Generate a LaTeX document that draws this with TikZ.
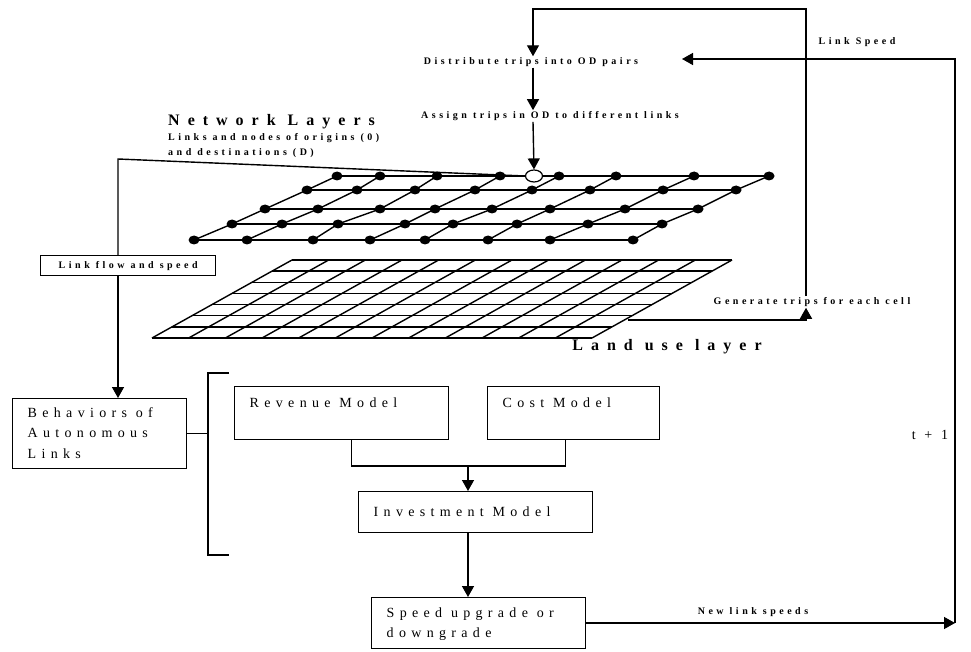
\documentclass[tikz,border=0pt]{standalone}
\usepackage{fontspec}
\setmainfont{Liberation Serif}
\newfontfamily\spaced[LetterSpace=35]{Liberation Serif}
\newfontfamily\widespaced[LetterSpace=50]{Liberation Serif}
\newfontfamily\boxfont[LetterSpace=38]{Liberation Serif}
\usetikzlibrary{arrows.meta,calc,positioning,shapes.geometric}

\newcommand\boxlines[2]{\makebox[#1][l]{\begin{tabular}{@{}l@{}}#2\end{tabular}}}

\tikzset{
  wire/.style={line width=1.4pt},
  flow/.style={line width=1.4pt,-{Triangle[length=11pt,width=12pt]}},
  steplabel/.style={font=\fontsize{10}{11}\selectfont\spaced\bfseries,inner sep=1pt},
  layertitle/.style={font=\fontsize{16}{18}\selectfont\widespaced\bfseries,inner sep=0pt},
  modelbox/.style={draw,line width=1.4pt,font=\fontsize{14}{20.5}\selectfont\boxfont,
    inner xsep=15pt,inner ysep=4pt,anchor=north west},
}

\begin{document}
\begin{tikzpicture}[x=1pt,y=-1pt]
        \useasboundingbox (0,0) rectangle (971,652);

        % network layer
        \def\netcols{194/232/265/307/337,247/282/318/357/380,313/338/380/415/437,370/405/435/475/500,
          425/453/492/532/559,488/517/550/590/616,550/588/625/663/694,633/662/698/736/769}
        \foreach \a/\b/\c/\d/\e in \netcols
            \draw[wire] (\a,240) -- (\b,224) -- (\c,209) -- (\d,190) -- (\e,176);
        \foreach \y/\l/\r in {240/194/633,224/232/662,209/265/698,190/307/736,176/337/769}
            \draw[wire] (\l,\y) -- (\r,\y);
        \foreach \a/\b/\c/\d/\e in \netcols
            \foreach \p/\y in {\a/240,\b/224,\c/209,\d/190,\e/176}
                \fill (\p,\y) ellipse (5.5 and 4.5);
        \node[draw,fill=white,ellipse,line width=1.2pt,minimum width=17pt,minimum height=12pt,inner sep=0pt] (odnode) at (534,176) {};

        % land use layer
        \foreach \i in {0,...,7}
            \draw[wire] ({152+20*\i},{338-78/7*\i}) -- ({592+20*\i},{338-78/7*\i});
        \foreach \j in {0,...,12}
            \draw[wire] ({152+440/12*\j},338) -- ({292+440/12*\j},260);
        \coordinate (landuse_out) at (628,320);

        % labels
        \node[steplabel] (distribute) at (531,62) {Distribute trips into OD pairs};
        \node[steplabel] (assign) at (550,116) {Assign trips in OD to different links};
        \node[steplabel] (linkspeed) at (857,42) {Link Speed};
        \node[steplabel] (generate) at (812,302) {Generate trips for each cell};
        \node[layertitle,anchor=west] (nettitle) at (168,122) {Network Layers};
        \node[steplabel,anchor=west,align=left,font=\fontsize{10}{15}\selectfont\spaced\bfseries] (netsub) at (167,146)
            {Links and nodes of origins (0)\\and destinations (D)};
        \node[layertitle] (landtitle) at (667,347) {Land use layer};
        \node[steplabel] (newspeeds) at (753,612) {New link speeds};
        \node[font=\fontsize{14}{16}\selectfont\boxfont] (tplus) at (930,435) {t + 1};

        % boxes
        \node[draw,wire,steplabel,minimum width=175pt,minimum height=20pt,anchor=north west] (linkflow) at (40,255) {Link flow and speed};
        \node[modelbox,minimum height=67pt] (behaviors) at (12,398) {\boxlines{144pt}{Behaviors of\\Autonomous\\Links}};
        \node[modelbox,minimum height=53pt] (revenue) at (234,386) {\boxlines{184pt}{Revenue Model\\\mbox{}}};
        \node[modelbox,minimum height=53pt] (cost) at (487,386) {\boxlines{142pt}{Cost Model\\\mbox{}}};
        \node[modelbox,minimum height=41pt] (investment) at (358,491) {\boxlines{204pt}{Investment Model}};
        \node[modelbox,minimum height=51pt] (speed) at (371,597) {\boxlines{184pt}{Speed upgrade or\\downgrade}};

        % loop coordinates
        \coordinate (gen_top) at (806,9);
        \coordinate (dist_top) at (533,9);
        \coordinate (speed_in) at (682,59);
        \coordinate (loop_top) at (955,59);
        \coordinate (loop_bottom) at (955,623);
        \coordinate (net_corner) at (118,159);
        \coordinate (brace_top) at (229,373);
        \coordinate (brace_bottom) at (229,555);
        \coordinate (merge) at (468,466);

        % connectors
        \draw[flow] (landuse_out) -| (generate.south -| gen_top);
        \draw[flow] (generate.north -| gen_top) -- (gen_top) -- (dist_top) -- (distribute.north -| dist_top);
        \draw[flow] (distribute.south -| dist_top) -- (assign.north -| dist_top);
        \draw[flow] (assign.south -| dist_top) -- (odnode.north);
        \draw[flow] (speed.east |- loop_bottom) -- (loop_bottom);
        \draw[flow] (loop_bottom) -- (loop_top) -- (speed_in);
        \draw[wire] (odnode.west) -- (net_corner) -- (linkflow.north -| net_corner);
        \draw[flow] (linkflow.south -| net_corner) -- (behaviors.north -| net_corner);
        \draw[wire] (brace_top) -- ++(-21,0) |- (brace_bottom);
        \draw[wire] (behaviors.east) -- ++(22,0);
        \draw[wire] ($(revenue.south)+(10,0)$) |- (merge) -| ($(cost.south)+(-8,0)$);
        \draw[flow] (merge) -- (investment.north -| merge);
        \draw[flow] (investment.south -| merge) -- (speed.north -| merge);
\end{tikzpicture}
\end{document}
